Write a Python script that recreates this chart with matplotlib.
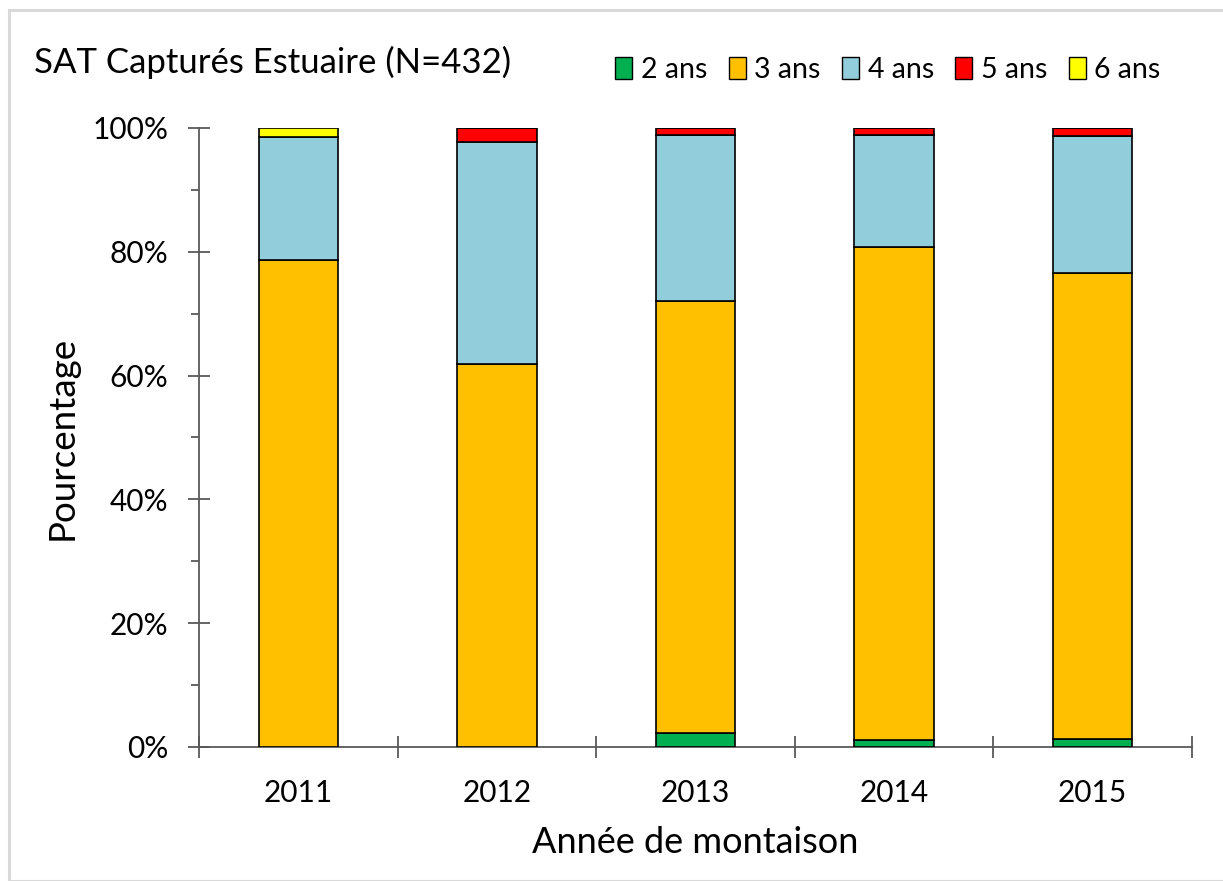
import matplotlib
matplotlib.use("Agg")
import matplotlib.pyplot as plt
import numpy as np
from matplotlib.patches import Rectangle, Patch
from matplotlib.ticker import MultipleLocator, PercentFormatter

plt.rcParams['font.family'] = ['Lato', 'DejaVu Sans']

years = ["2011", "2012", "2013", "2014", "2015"]
labels = ["2 ans", "3 ans", "4 ans", "5 ans", "6 ans"]
colors = ["#00b050", "#ffc000", "#92cddc", "#ff0000", "#ffff00"]
ans2 = [0.0, 0.0, 2.2, 1.1, 1.3]
ans3 = [78.6, 61.8, 69.9, 79.7, 75.3]
ans4 = [20.0, 36.0, 26.8, 18.1, 22.1]
ans5 = [0.0, 2.2, 1.1, 1.1, 1.3]
ans6 = [1.4, 0.0, 0.0, 0.0, 0.0]
series = [ans2, ans3, ans4, ans5, ans6]

fig = plt.figure(figsize=(12.23, 8.81), dpi=100)
ax = fig.add_axes([199/1223, 1-747/881, (1192-199)/1223, (747-128)/881])

x = np.arange(len(years))
bottom = np.zeros(len(years))
for vals, c, lab in zip(series, colors, labels):
    v = np.array(vals) / 100.0
    ax.bar(x, v, width=0.4, bottom=bottom, color=c, edgecolor='black',
           linewidth=1.2, label=lab, zorder=3)
    bottom += v

axcol = '#595959'
ax.set_xlim(-0.5, len(years) - 0.5)
ax.set_ylim(0, 1)
for s in ['top', 'right']:
    ax.spines[s].set_visible(False)
for s in ['left', 'bottom']:
    ax.spines[s].set_color(axcol)
    ax.spines[s].set_linewidth(1.3)

ax.yaxis.set_major_locator(MultipleLocator(0.2))
ax.yaxis.set_minor_locator(MultipleLocator(0.1))
ax.yaxis.set_major_formatter(PercentFormatter(1.0, decimals=0))
ax.tick_params(axis='y', which='major', direction='inout', length=16.5,
               width=1.3, color=axcol, labelsize=21.5, pad=14, labelcolor='black')
ax.tick_params(axis='y', which='minor', direction='out', length=6,
               width=1.3, color=axcol)

ax.set_xticks(np.arange(-0.5, len(years), 1.0))
ax.set_xticklabels([])
ax.set_xticks(x, minor=True)
ax.set_xticklabels(years, minor=True)
ax.tick_params(axis='x', which='major', direction='inout', length=16.5,
               width=1.3, color=axcol)
ax.tick_params(axis='x', which='minor', length=0, labelsize=21.5, pad=23,
               labelcolor='black')

ax.set_ylabel("Pourcentage", fontsize=26.5, labelpad=10)
ax.set_xlabel("Année de montaison", fontsize=26, labelpad=14)

fig.text(34/1223, 1-62/881, "SAT Capturés Estuaire (N=432)", fontsize=25,
         ha='left', va='center')

handles = [Patch(facecolor=c, edgecolor='black', linewidth=1.0) for c in colors]
fig.legend(handles, labels, loc='center', bbox_to_anchor=(888/1223, 1-70/881),
           ncol=5, frameon=False, fontsize=20.5, handlelength=0.6,
           handleheight=0.8, handletextpad=0.3, columnspacing=0.75)

fig.patches.append(Rectangle((9/1223, 0), 1.0, 1-10/881, transform=fig.transFigure,
                             fill=False, edgecolor='#d9d9d9', linewidth=2.2))

fig.savefig("out.png", dpi=100)
